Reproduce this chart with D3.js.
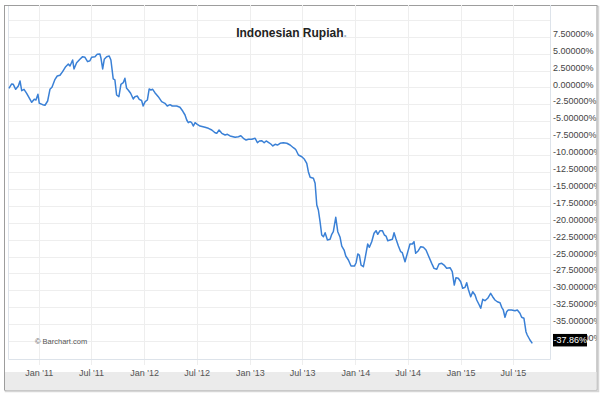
<!DOCTYPE html>
<html>
<head>
<meta charset="utf-8">
<script src="https://cdn.jsdelivr.net/npm/d3@7"></script>
<style>
  html, body { margin: 0; padding: 0; background: #fff; }
  svg { display: block; }
</style>
</head>
<body>
<svg id="chart" width="608" height="397"></svg>
<script>
// ---- data (decimal year, % change) ----
const title = "Indonesian Rupiah";
const lastLabel = "-37.86%";
const credit = "© Barchart.com";
const yTickValues = [7.5, 5, 2.5, 0, -2.5, -5, -7.5, -10, -12.5, -15, -17.5, -20, -22.5, -25, -27.5, -30, -32.5, -35, -37.5];
const yGridValues = [10, 7.5, 5, 2.5, 0, -2.5, -5, -7.5, -10, -12.5, -15, -17.5, -20, -22.5, -25, -27.5, -30, -32.5, -35, -37.5];
const xTickDates = ["2011-01-01","2011-07-01","2012-01-01","2012-07-01","2013-01-01","2013-07-01","2014-01-01","2014-07-01","2015-01-01","2015-07-01"];

const years = [
2010.718,2010.744,2010.759,2010.782,2010.807,2010.823,2010.839,2010.861,2010.886,2010.934,
2010.958,2010.974,2010.993,2011.006,2011.038,2011.060,2011.085,2011.107,2011.126,2011.155,
2011.176,2011.202,2011.227,2011.256,2011.281,2011.297,2011.322,2011.335,2011.360,2011.391,
2011.417,2011.439,2011.464,2011.486,2011.502,2011.534,2011.555,2011.581,2011.591,2011.607,
2011.622,2011.645,2011.669,2011.685,2011.707,2011.723,2011.739,2011.761,2011.780,2011.802,
2011.818,2011.834,2011.849,2011.872,2011.897,2011.913,2011.935,2011.954,2011.976,2011.991,
2012.010,2012.031,2012.048,2012.064,2012.081,2012.102,2012.134,2012.166,2012.197,2012.219,
2012.245,2012.266,2012.308,2012.339,2012.365,2012.387,2012.403,2012.418,2012.434,2012.450,
2012.465,2012.482,2012.503,2012.529,2012.576,2012.608,2012.640,2012.671,2012.687,2012.709,
2012.735,2012.766,2012.788,2012.813,2012.861,2012.892,2012.915,2012.939,2012.965,2012.987,
2013.019,2013.050,2013.072,2013.091,2013.114,2013.136,2013.155,2013.176,2013.199,2013.218,
2013.240,2013.262,2013.287,2013.318,2013.351,2013.382,2013.413,2013.434,2013.461,2013.493,
2013.518,2013.540,2013.555,2013.572,2013.603,2013.619,2013.635,2013.650,2013.666,2013.682,
2013.698,2013.714,2013.736,2013.761,2013.777,2013.792,2013.815,2013.834,2013.856,2013.872,
2013.894,2013.910,2013.935,2013.960,2013.992,2014.008,2014.024,2014.039,2014.055,2014.077,
2014.093,2014.118,2014.134,2014.156,2014.178,2014.197,2014.213,2014.235,2014.257,2014.276,
2014.292,2014.308,2014.330,2014.352,2014.368,2014.384,2014.409,2014.431,2014.446,2014.472,
2014.494,2014.519,2014.541,2014.557,2014.573,2014.598,2014.621,2014.646,2014.671,2014.693,
2014.725,2014.747,2014.773,2014.794,2014.820,2014.842,2014.867,2014.899,2014.920,2014.939,
2014.955,2014.977,2015.000,2015.019,2015.041,2015.057,2015.072,2015.095,2015.114,2015.136,
2015.152,2015.176,2015.190,2015.209,2015.230,2015.256,2015.284,2015.303,2015.325,2015.347,
2015.373,2015.389,2015.404,2015.420,2015.436,2015.451,2015.483,2015.515,2015.537,2015.562,
2015.578,2015.600,2015.619,2015.631,2015.657,2015.679
];
const values = [
-0.12,0.52,0.47,-0.27,0.22,0.96,-0.47,-0.27,-0.86,-2.19,
-1.75,-1.85,-1.01,-2.34,-2.54,-2.63,-2.00,-0.27,0.03,1.21,
1.70,1.80,2.34,3.08,3.48,3.18,4.07,2.74,3.67,4.17,
4.56,4.47,3.82,3.96,4.47,4.56,4.91,4.96,4.32,2.74,
4.17,4.56,4.66,4.07,1.26,1.11,-1.11,-1.36,0.47,0.71,
1.36,-0.12,-0.37,-0.86,-1.70,-1.36,-1.26,-1.75,-1.92,-2.74,
-2.10,-1.85,-0.22,-0.37,-0.27,-0.77,-1.36,-2.10,-2.34,-2.74,
-2.54,-2.74,-2.74,-2.93,-3.48,-4.07,-4.81,-5.21,-5.06,-5.21,
-5.70,-5.21,-5.44,-5.70,-5.89,-6.04,-6.29,-6.69,-6.78,-6.29,
-6.78,-7.03,-6.92,-7.17,-7.37,-7.28,-7.13,-7.51,-7.77,-7.66,
-7.66,-7.51,-8.17,-7.91,-7.87,-8.17,-7.91,-8.11,-8.36,-8.65,
-8.40,-8.51,-8.25,-8.17,-8.25,-8.51,-8.91,-9.14,-9.99,-10.24,
-10.62,-11.21,-12.46,-13.28,-13.43,-14.17,-17.38,-18.12,-19.85,-21.82,
-22.07,-21.48,-22.56,-22.46,-21.72,-21.33,-19.20,-21.33,-22.16,-23.45,
-24.04,-24.93,-25.52,-26.41,-26.41,-25.92,-24.63,-24.78,-26.26,-26.51,
-25.27,-23.15,-23.64,-22.81,-21.57,-21.18,-21.72,-21.18,-21.18,-21.82,
-21.97,-22.66,-22.56,-22.46,-21.48,-22.31,-23.45,-24.29,-24.44,-25.77,
-24.53,-23.15,-23.15,-22.81,-24.53,-24.14,-23.55,-23.64,-24.04,-24.85,
-26.01,-26.75,-26.89,-26.11,-26.01,-26.26,-26.75,-26.66,-27.25,-29.22,
-28.14,-28.22,-28.73,-29.70,-29.56,-28.88,-29.85,-30.95,-30.21,-30.70,
-31.43,-32.17,-32.66,-31.33,-31.54,-31.18,-30.44,-30.95,-31.43,-31.69,
-31.83,-32.51,-32.91,-33.99,-33.17,-32.91,-32.91,-33.02,-32.91,-33.40,
-33.99,-34.14,-36.12,-36.61,-37.35,-37.86
];
const xDomainYears = [2010.709, 2015.847];
const yDomain = [-40.16, 12.2];

// ---- helpers ----
function yearToDate(y) {
  const yr = Math.floor(y);
  const a = Date.UTC(yr, 0, 1), b = Date.UTC(yr + 1, 0, 1);
  return new Date(a + (y - yr) * (b - a));
}
const data = years.map((y, i) => ({ date: yearToDate(y), value: values[i] }));

const svg = d3.select("#chart");
const plot = { left: 8, right: 550, top: 5, bottom: 359 };

const x = d3.scaleUtc()
  .domain(xDomainYears.map(yearToDate))
  .range([plot.left, plot.right]);
const y = d3.scaleLinear()
  .domain(yDomain)
  .range([plot.bottom, plot.top]);

const loc = d3.formatLocale({ decimal: ".", thousands: ",", grouping: [3], currency: ["$", ""], minus: "-" });
const yFmt = v => loc.format(".5f")(v) + "%";
const xFmt = d3.utcFormat("%b '%y");
const xTicks = xTickDates.map(s => new Date(s + "T00:00:00Z"));

// clip for frame
svg.append("defs").append("clipPath").attr("id", "frameClip")
  .append("rect").attr("x", 5).attr("y", 5).attr("width", 591.5).attr("height", 385);

// frame shadow & frame
svg.append("rect").attr("x", 5.5).attr("y", 6.5).attr("width", 593).attr("height", 385)
  .attr("fill", "none").attr("stroke", "#d6d6d6").attr("stroke-width", 1.5);
svg.append("rect").attr("x", 4.5).attr("y", 5.5).attr("width", 592.5).attr("height", 384.5)
  .attr("fill", "#fff").attr("stroke", "#9d9d9d").attr("stroke-width", 1);

const g = svg.append("g").attr("clip-path", "url(#frameClip)");

// bottom gray band
g.append("rect").attr("x", 5).attr("y", 372).attr("width", 592).attr("height", 18)
  .attr("fill", "#ebebeb");

// grid
g.append("g").selectAll("line").data(yGridValues).join("line")
  .attr("x1", plot.left).attr("x2", plot.right)
  .attr("y1", d => Math.round(y(d)) + 0.5).attr("y2", d => Math.round(y(d)) + 0.5)
  .attr("stroke", "#eeeeee").attr("stroke-width", 1);
g.append("g").selectAll("line").data(xTicks).join("line")
  .attr("x1", d => Math.round(x(d)) + 0.5).attr("x2", d => Math.round(x(d)) + 0.5)
  .attr("y1", plot.top).attr("y2", plot.bottom + 6)
  .attr("stroke", "#eeeeee").attr("stroke-width", 1);

// plot border (left & bottom & right)
g.append("path")
  .attr("d", `M${plot.left + 0.5},${plot.top + 1}V${plot.bottom + 0.5}H${plot.right + 0.5}V${plot.top}`)
  .attr("fill", "none").attr("stroke", "#dde3ea").attr("stroke-width", 1);

// x axis labels via d3 axis
const xAxis = g.append("g")
  .attr("transform", `translate(0,${plot.bottom})`)
  .call(d3.axisBottom(x).tickValues(xTicks).tickFormat(xFmt).tickSize(0).tickPadding(11));
xAxis.select(".domain").remove();
xAxis.selectAll("text")
  .attr("font-family", "Arial, 'Liberation Sans', sans-serif")
  .attr("font-size", 9).attr("fill", "#555");

// y axis labels via d3 axis
const yAxis = g.append("g")
  .attr("transform", `translate(${plot.right},0)`)
  .call(d3.axisRight(y).tickValues(yTickValues).tickFormat(yFmt).tickSize(0).tickPadding(3));
yAxis.select(".domain").remove();
yAxis.selectAll("text")
  .attr("font-family", "Arial, 'Liberation Sans', sans-serif")
  .attr("font-size", 9).attr("fill", "#444")
  .attr("dy", "-0.05em");

// line
const line = d3.line().x(d => x(d.date)).y(d => y(d.value)).curve(d3.curveLinear);
g.append("path").datum(data)
  .attr("d", line)
  .attr("fill", "none").attr("stroke", "#3a80d6").attr("stroke-width", 1.5)
  .attr("stroke-linejoin", "round");

// last value box
const lastVal = values[values.length - 1];
const ly = y(lastVal);
g.append("rect").attr("x", plot.right + 3).attr("y", ly - 9.5).attr("width", 34).attr("height", 12.5)
  .attr("fill", "#000");
g.append("text").attr("x", plot.right + 3.5).attr("y", ly)
  .attr("font-family", "Arial, 'Liberation Sans', sans-serif").attr("font-size", 9)
  .attr("fill", "#fff").text(lastLabel);

// credit
g.append("text").attr("x", 35).attr("y", 344)
  .attr("font-family", "Arial, 'Liberation Sans', sans-serif").attr("font-size", 7.5)
  .attr("fill", "#555").text(credit);

// title
const t = g.append("text").attr("x", 291.5).attr("y", 37).attr("text-anchor", "middle")
  .attr("font-family", "Arial, 'Liberation Sans', sans-serif").attr("font-size", 12)
  .attr("font-weight", "bold").attr("fill", "#222");
t.append("tspan").text(title);
t.append("tspan").attr("fill", "#9fb8cc").text(".");
</script>
</body>
</html>
